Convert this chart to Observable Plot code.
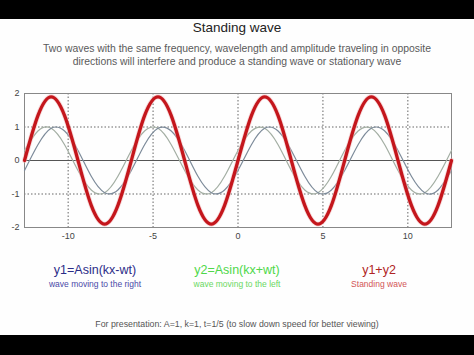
<!DOCTYPE html>
<html>
<head>
<meta charset="utf-8">
<script src="https://cdn.jsdelivr.net/npm/d3@7"></script>
<script src="https://cdn.jsdelivr.net/npm/@observablehq/plot@0.6"></script>
<style>
  html, body { margin: 0; padding: 0; background: #000; }
  #page { position: relative; width: 474px; height: 355px; background: #000; overflow: hidden; font-family: "Liberation Sans", Arial, sans-serif; }
  #white { position: absolute; left: 0; top: 19px; width: 474px; height: 316px; background: #fefefe; }
  .t { position: absolute; white-space: nowrap; text-align: center; }
  #chart { position: absolute; left: 0; top: 85px; }
</style>
</head>
<body>
<div id="page">
  <div id="white"></div>
  <div class="t" style="left:0;width:474px;top:20px;height:16px;line-height:16px;font-size:13.5px;color:#222;">Standing wave</div>
  <div class="t" style="left:0;width:474px;top:42px;height:13px;line-height:13px;font-size:10.4px;color:#5a5a5a;">Two waves with the same frequency, wavelength and amplitude traveling in opposite</div>
  <div class="t" style="left:0;width:474px;top:55px;height:13px;line-height:13px;font-size:10.4px;color:#5a5a5a;">directions will interfere and produce a standing wave or stationary wave</div>
  <div id="chart"></div>
  <div class="t" style="left:15px;width:160px;top:262px;height:16px;line-height:16px;font-size:12.5px;color:#2c2c88;">y1=Asin(kx-wt)</div>
  <div class="t" style="left:15px;width:160px;top:279px;height:11px;line-height:11px;font-size:8.5px;color:#4a4aa8;">wave moving to the right</div>
  <div class="t" style="left:157px;width:160px;top:262px;height:16px;line-height:16px;font-size:12.5px;color:#4fd84a;">y2=Asin(kx+wt)</div>
  <div class="t" style="left:157px;width:160px;top:279px;height:11px;line-height:11px;font-size:8.5px;color:#6ad862;">wave moving to the left</div>
  <div class="t" style="left:299px;width:160px;top:262px;height:16px;line-height:16px;font-size:12.5px;color:#b02424;">y1+y2</div>
  <div class="t" style="left:299px;width:160px;top:279px;height:11px;line-height:11px;font-size:8.5px;color:#d25656;">Standing wave</div>
  <div class="t" style="left:0;width:474px;top:318px;height:12px;line-height:12px;font-size:8.8px;color:#555;">For presentation: A=1, k=1, t=1/5 (to slow down speed for better viewing)</div>
</div>
<script>
// sample positions (x), read at quarter-wave steps
const xs = [-12.57, -11.78, -11.00, -10.21, -9.42, -8.64, -7.85, -7.07,
            -6.28, -5.50, -4.71, -3.93, -3.14, -2.36, -1.57, -0.79,
            0, 0.79, 1.57, 2.36, 3.14, 3.93, 4.71, 5.50,
            6.28, 7.07, 7.85, 8.64, 9.42, 10.21, 11.00, 11.78, 12.57];
// y1: wave moving to the right
const y1 = [-0.30, 0.47, 0.96, 0.88, 0.30, -0.47, -0.96, -0.88,
            -0.30, 0.47, 0.96, 0.88, 0.30, -0.47, -0.96, -0.88,
            -0.30, 0.47, 0.96, 0.88, 0.30, -0.47, -0.96, -0.88,
            -0.30, 0.47, 0.96, 0.88, 0.30, -0.47, -0.96, -0.88, -0.30];
// y2: wave moving to the left
const y2 = [0.30, 0.88, 0.96, 0.47, -0.30, -0.88, -0.96, -0.47,
            0.30, 0.88, 0.96, 0.47, -0.30, -0.88, -0.96, -0.47,
            0.30, 0.88, 0.96, 0.47, -0.30, -0.88, -0.96, -0.47,
            0.30, 0.88, 0.96, 0.47, -0.30, -0.88, -0.96, -0.47, 0.30];
// y1+y2: standing wave
const ysum = [0, 1.34, 1.90, 1.34, 0, -1.34, -1.90, -1.34,
              0, 1.34, 1.90, 1.34, 0, -1.34, -1.90, -1.34,
              0, 1.34, 1.90, 1.34, 0, -1.34, -1.90, -1.34,
              0, 1.34, 1.90, 1.34, 0, -1.34, -1.90, -1.34, 0];
const xTicks = [-10, -5, 0, 5, 10];
const yTicks = [-2, -1, 0, 1, 2];
const yGrid = [-1, 1];

const rows = xs.map((x, i) => ({x, y1: y1[i], y2: y2[i], s: ysum[i]}));

const chart = Plot.plot({
  width: 474,
  height: 160,
  marginTop: 8,
  marginBottom: 18,
  marginLeft: 24,
  marginRight: 23,
  style: {fontFamily: "Liberation Sans, Arial, sans-serif", fontSize: "9px", color: "#444", background: "transparent"},
  x: {domain: [-12.57, 12.57]},
  y: {domain: [-2, 2]},
  marks: [
    Plot.gridX(xTicks, {stroke: "#666", strokeOpacity: 1, strokeDasharray: "1.5,2"}),
    Plot.gridY(yGrid, {stroke: "#666", strokeOpacity: 1, strokeDasharray: "1.5,2"}),
    Plot.ruleY([0], {stroke: "#555", strokeWidth: 1}),
    Plot.frame({stroke: "#888"}),
    Plot.line(rows, {x: "x", y: "y2", curve: "natural", stroke: "#a3aea3", strokeWidth: 1.2}),
    Plot.line(rows, {x: "x", y: "y1", curve: "natural", stroke: "#7d8b9a", strokeWidth: 1.2}),
    Plot.line(rows, {x: "x", y: "s", curve: "natural", stroke: "#f2b8b8", strokeWidth: 5, strokeOpacity: 0.5}),
    Plot.line(rows, {x: "x", y: "s", curve: "natural", stroke: "#c4161c", strokeWidth: 3.3}),
    Plot.axisX({ticks: xTicks, tickSize: 0, tickPadding: 5, tickFormat: d => String(d), label: null, fill: "#444"}),
    Plot.axisY({ticks: yTicks, tickSize: 0, tickPadding: 5, tickFormat: d => String(d), label: null, fill: "#444"})
  ]
});
document.getElementById("chart").appendChild(chart);
</script>
</body>
</html>
